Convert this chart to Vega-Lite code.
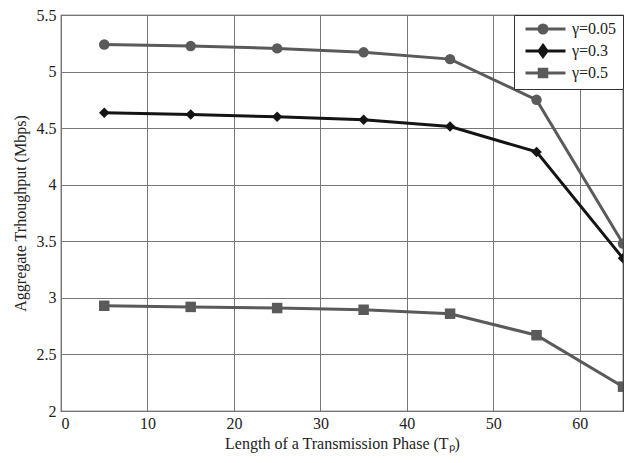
{
  "$schema": "https://vega.github.io/schema/vega-lite/v6.json",
  "width": 562,
  "height": 396,
  "autosize": "none",
  "padding": {"left": 61, "top": 15, "right": 3, "bottom": 52},
  "background": "white",
  "config": {
    "font": "Liberation Serif",
    "view": {"stroke": "#333333", "strokeWidth": 1.2},
    "axis": {
      "grid": true,
      "gridColor": "#777777",
      "gridWidth": 1,
      "gridOpacity": 1,
      "domain": false,
      "ticks": false,
      "labelFont": "Liberation Serif",
      "labelFontSize": 16,
      "labelColor": "#222222",
      "titleFont": "Liberation Serif",
      "titleFontSize": 16,
      "titleFontWeight": "normal",
      "titleColor": "#222222"
    }
  },
  "data": {
    "values": [
      {"series": "γ=0.05", "Tp": 5, "thr": 5.24},
      {"series": "γ=0.05", "Tp": 15, "thr": 5.225},
      {"series": "γ=0.05", "Tp": 25, "thr": 5.205},
      {"series": "γ=0.05", "Tp": 35, "thr": 5.17},
      {"series": "γ=0.05", "Tp": 45, "thr": 5.11},
      {"series": "γ=0.05", "Tp": 55, "thr": 4.75},
      {"series": "γ=0.05", "Tp": 65, "thr": 3.48},
      {"series": "γ=0.3", "Tp": 5, "thr": 4.635},
      {"series": "γ=0.3", "Tp": 15, "thr": 4.62},
      {"series": "γ=0.3", "Tp": 25, "thr": 4.60},
      {"series": "γ=0.3", "Tp": 35, "thr": 4.575},
      {"series": "γ=0.3", "Tp": 45, "thr": 4.515},
      {"series": "γ=0.3", "Tp": 55, "thr": 4.29},
      {"series": "γ=0.3", "Tp": 65, "thr": 3.35},
      {"series": "γ=0.5", "Tp": 5, "thr": 2.93},
      {"series": "γ=0.5", "Tp": 15, "thr": 2.92},
      {"series": "γ=0.5", "Tp": 25, "thr": 2.91},
      {"series": "γ=0.5", "Tp": 35, "thr": 2.895},
      {"series": "γ=0.5", "Tp": 45, "thr": 2.86},
      {"series": "γ=0.5", "Tp": 55, "thr": 2.67},
      {"series": "γ=0.5", "Tp": 65, "thr": 2.215}
    ]
  },
  "encoding": {
    "x": {
      "field": "Tp",
      "type": "quantitative",
      "scale": {"domain": [0, 65], "nice": false, "zero": false},
      "axis": {"values": [0, 10, 20, 30, 40, 50, 60], "title": "Length of a Transmission Phase (Tₚ)", "labelPadding": 4, "titlePadding": 4}
    },
    "y": {
      "field": "thr",
      "type": "quantitative",
      "scale": {"domain": [2, 5.5], "nice": false, "zero": false},
      "axis": {"values": [2, 2.5, 3, 3.5, 4, 4.5, 5, 5.5], "format": "~g", "title": "Aggregate Trhoughput (Mbps)", "labelPadding": 5, "titlePadding": 8}
    },
    "color": {
      "field": "series",
      "type": "nominal",
      "scale": {"domain": ["γ=0.05", "γ=0.3", "γ=0.5"], "range": ["#5a5a5a", "#141414", "#5a5a5a"]},
      "legend": {
        "title": null,
        "orient": "top-right",
        "offset": 0,
        "padding": 6,
        "strokeColor": "#333333",
        "fillColor": "white",
        "labelFont": "Liberation Serif",
        "labelFontSize": 16,
        "labelColor": "#222222",
        "symbolSize": 100,
        "symbolStrokeWidth": 3,
        "rowPadding": 0,
        "labelOffset": 36,
        "encode": {
          "symbols": {
            "update": {
              "shape": {"signal": "datum.value == 'γ=0.05' ? 'M-0.5,0H7.5M3.8,0A0.8,0.8 0 1,1 2.2,0A0.8,0.8 0 1,1 3.8,0Z' : datum.value == 'γ=0.3' ? 'M-0.5,0H7.5M3,-1.1L3.8,0L3,1.1L2.2,0Z' : 'M-0.5,0H7.5M2.25,-0.75H3.75V0.75H2.25Z'"},
              "fill": {"scale": "color", "field": "value"},
              "stroke": {"scale": "color", "field": "value"},
              "opacity": {"value": 1},
              "fillOpacity": {"value": 1},
              "strokeOpacity": {"value": 1}
            }
          }
        }
      }
    }
  },
  "layer": [
    {"mark": {"type": "line", "strokeWidth": 3, "clip": true}},
    {
      "transform": [{"filter": "datum.series == 'γ=0.05'"}],
      "mark": {"type": "point", "shape": "circle", "filled": true, "size": 110, "opacity": 1, "clip": true}
    },
    {
      "transform": [{"filter": "datum.series == 'γ=0.3'"}],
      "mark": {"type": "point", "shape": "diamond", "filled": true, "size": 110, "opacity": 1, "clip": true}
    },
    {
      "transform": [{"filter": "datum.series == 'γ=0.5'"}],
      "mark": {"type": "point", "shape": "square", "filled": true, "size": 110, "opacity": 1, "clip": true}
    }
  ]
}
